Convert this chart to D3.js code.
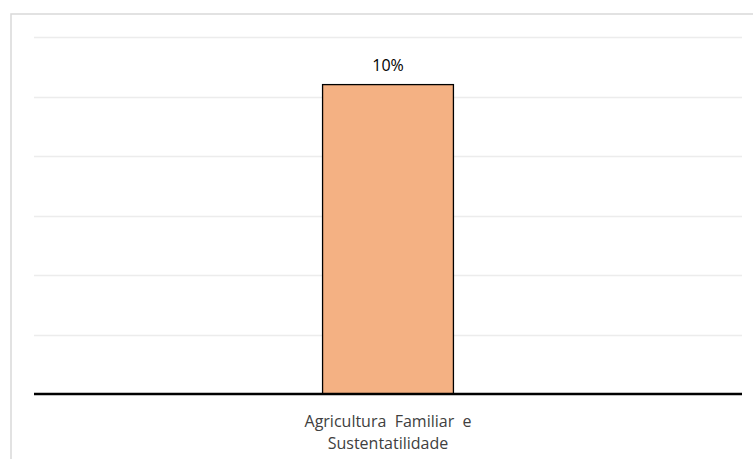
<!DOCTYPE html>
<html><head><meta charset="utf-8">
<script src="https://cdn.jsdelivr.net/npm/d3@7"></script>
<style>body{margin:0;background:#fff}svg{display:block}</style>
</head><body>
<svg id="c" width="753" height="459"></svg>
<script>
const categories = ["Agricultura  Familiar  e|Sustentatilidade"];
const values = [0.104];
const valueLabels = ["10%"];
const yTicks = [0, 0.02, 0.04, 0.06, 0.08, 0.10, 0.12];

const svg = d3.select("#c");
const font = "Open Sans, Liberation Sans, sans-serif";
// frame
svg.append("rect").attr("x",11).attr("y",14).attr("width",760).attr("height",470)
  .attr("fill","#fff").attr("stroke","#d9d9d9").attr("stroke-width",1.5);

const x = d3.scaleBand().domain(categories).range([34,742]).padding(0.688);
const y = d3.scaleLinear().domain([0,0.12]).range([394,37]);

svg.append("g").selectAll("line").data(yTicks.slice(1)).join("line")
  .attr("x1",34).attr("x2",742).attr("y1",d=>Math.round(y(d))+0.5).attr("y2",d=>Math.round(y(d))+0.5)
  .attr("stroke","#ececec").attr("stroke-width",1.5);

svg.append("g").selectAll("rect").data(values).join("rect")
  .attr("x",(d,i)=>x(categories[i])).attr("width",x.bandwidth())
  .attr("y",d=>y(d)).attr("height",d=>y(0)-y(d))
  .attr("fill","#f4b183").attr("stroke","#000").attr("stroke-width",1.3);

svg.append("g").selectAll("text").data(values).join("text")
  .attr("x",(d,i)=>x(categories[i])+x.bandwidth()/2).attr("y",d=>y(d)-14)
  .attr("text-anchor","middle").attr("font-family",font).attr("font-size",16).attr("fill","#000")
  .text((d,i)=>valueLabels[i]);

svg.append("line").attr("x1",34).attr("x2",742).attr("y1",y(0)).attr("y2",y(0))
  .attr("stroke","#000").attr("stroke-width",2.5);

const lab = svg.append("g").selectAll("text").data(categories).join("text")
  .attr("text-anchor","middle").attr("font-family",font).attr("font-size",16).attr("fill","#404040")
  .attr("xml:space","preserve").style("white-space","pre");
lab.each(function(d){
  const t = d3.select(this), cx = x(d)+x.bandwidth()/2;
  d.split("|").forEach((s,k)=>t.append("tspan").attr("x",cx).attr("y",427+k*22).text(s));
});
</script>
</body></html>
